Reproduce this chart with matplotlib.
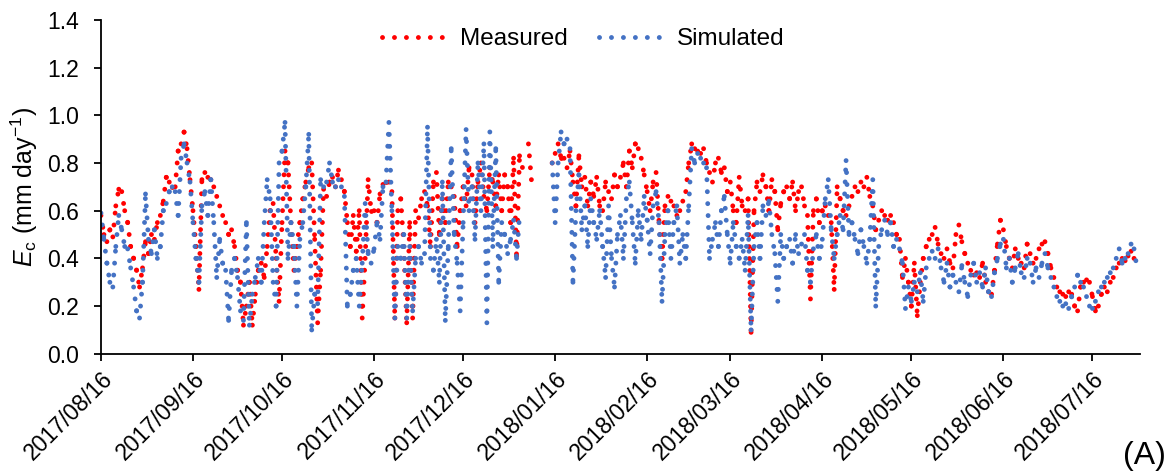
import numpy as np
import pandas as pd
import matplotlib
matplotlib.use("Agg")
import matplotlib.pyplot as plt
import matplotlib.dates as mdates
from matplotlib.collections import LineCollection
from matplotlib.lines import Line2D

plt.rcParams["font.family"] = ["Liberation Sans", "DejaVu Sans"]
plt.rcParams["mathtext.fontset"] = "custom"
plt.rcParams["mathtext.rm"] = "Liberation Sans"
plt.rcParams["mathtext.it"] = "Liberation Sans:italic"

START = "2017-08-16"
nan = np.nan

# daily crop transpiration, mm/day
measured = [
    0.58, 0.50, 0.47, 0.52, 0.49, 0.62, 0.69, 0.68, 0.60, 0.55,
    0.45, 0.40, 0.35, 0.28, 0.36, 0.47, 0.42, 0.50, 0.48, 0.55,
    0.58, 0.64, 0.74, 0.72, 0.70, 0.70, 0.85, 0.88, 0.93, 0.86,
    0.73, 0.60, 0.45, 0.27, 0.73, 0.76, 0.74, 0.73, 0.70, 0.66,
    0.62, 0.58, 0.55, 0.50, 0.52, 0.45, 0.35, 0.30, 0.12, 0.20,
    0.30, 0.12, 0.25, 0.35, 0.38, 0.32, 0.45, 0.60, 0.63, 0.40,
    0.22, 0.55, 0.85, 0.80, 0.55, 0.35, 0.45, 0.55, 0.65, 0.72,
    0.78, 0.80, 0.48, 0.13, 0.35, 0.69, 0.66, 0.72, 0.74, 0.70,
    0.77, 0.73, 0.68, 0.55, 0.45, 0.58, 0.43, 0.60, 0.15, 0.40,
    0.73, 0.60, 0.60, 0.55, 0.67, 0.71, 0.72, 0.72, 0.68, 0.15,
    0.60, 0.65, 0.45, 0.13, 0.55, 0.15, 0.60, 0.57, 0.65, 0.68,
    0.62, 0.45, 0.72, 0.76, 0.50, 0.65, 0.55, 0.72, 0.70, 0.66,
    0.45, 0.60, 0.70, 0.62, 0.78, 0.75, 0.55, 0.72, 0.80, 0.66,
    0.60, 0.78, 0.72, 0.62, 0.75, 0.60, 0.75, 0.70, 0.55, 0.82,
    0.41, 0.83, 0.78, nan, 0.88, 0.73, nan, nan, nan, nan,
    nan, nan, 0.80, 0.84, 0.88, 0.82, 0.82, 0.78, 0.85, 0.72,
    0.62, 0.83, 0.70, 0.74, 0.62, 0.72, 0.66, 0.74, 0.62, 0.60,
    0.72, 0.68, 0.65, 0.75, 0.70, 0.74, 0.80, 0.70, 0.85, 0.78,
    0.88, 0.86, 0.82, 0.75, 0.68, 0.60, 0.72, 0.76, 0.55, 0.40,
    0.62, 0.66, 0.64, 0.62, 0.58, 0.60, 0.64, 0.68, 0.80, 0.88,
    0.86, 0.85, 0.84, 0.86, 0.80, 0.76, 0.72, 0.80, 0.82, 0.76,
    0.78, 0.68, 0.72, 0.60, 0.55, 0.74, 0.62, 0.60, 0.65, 0.09,
    0.60, 0.72, 0.68, 0.75, 0.70, 0.60, 0.73, 0.68, 0.52, 0.63,
    0.68, 0.70, 0.65, 0.72, 0.60, 0.68, 0.70, 0.62, 0.58, 0.23,
    0.60, 0.65, 0.55, 0.60, 0.62, 0.58, 0.55, 0.27, 0.70, 0.65,
    0.60, 0.58, 0.62, 0.66, 0.70, 0.68, 0.72, 0.70, 0.74, 0.66,
    0.62, 0.52, 0.56, 0.60, 0.58, 0.56, 0.58, 0.55, 0.50, 0.48,
    0.32, 0.40, 0.30, 0.20, 0.38, 0.16, 0.30, 0.40, 0.45, 0.48,
    0.50, 0.53, 0.46, 0.42, 0.40, 0.44, 0.38, 0.36, 0.50, 0.54,
    0.47, 0.42, 0.38, 0.35, 0.33, 0.34, 0.32, 0.38, 0.30, 0.26,
    0.25, 0.35, 0.46, 0.56, 0.52, 0.45, 0.40, 0.36, 0.44, 0.40,
    0.38, 0.36, 0.46, 0.42, 0.38, 0.40, 0.44, 0.46, 0.47, 0.42,
    0.36, 0.32, 0.28, 0.26, 0.25, 0.24, 0.26, 0.25, 0.20, 0.18,
    0.28, 0.30, 0.31, 0.30, 0.24, 0.18, 0.20, 0.25, 0.28, 0.26,
    0.30, 0.32, 0.36, 0.38, 0.40, 0.39, 0.41, 0.43, 0.40, 0.42,
]

simulated = [
    0.59, 0.48, 0.38, 0.30, 0.28, 0.45, 0.58, 0.52, 0.45, 0.44,
    0.36, 0.28, 0.18, 0.15, 0.30, 0.67, 0.48, 0.42, 0.52, 0.40,
    0.45, 0.60, 0.63, 0.68, 0.70, 0.68, 0.58, 0.82, 0.88, 0.80,
    0.72, 0.55, 0.40, 0.30, 0.62, 0.68, 0.58, 0.73, 0.55, 0.32,
    0.48, 0.38, 0.35, 0.14, 0.35, 0.40, 0.32, 0.18, 0.14, 0.55,
    0.12, 0.25, 0.32, 0.40, 0.30, 0.55, 0.73, 0.65, 0.30, 0.20,
    0.80, 0.85, 0.97, 0.40, 0.55, 0.45, 0.20, 0.48, 0.55, 0.70,
    0.92, 0.10, 0.25, 0.21, 0.73, 0.70, 0.72, 0.80, 0.72, 0.70,
    0.73, 0.70, 0.66, 0.20, 0.25, 0.35, 0.40, 0.20, 0.38, 0.63,
    0.42, 0.38, 0.44, 0.55, 0.48, 0.70, 0.72, 0.97, 0.60, 0.15,
    0.45, 0.40, 0.50, 0.15, 0.45, 0.18, 0.40, 0.45, 0.38, 0.42,
    0.95, 0.40, 0.35, 0.48, 0.30, 0.72, 0.14, 0.45, 0.86, 0.50,
    0.38, 0.18, 0.55, 0.94, 0.60, 0.70, 0.48, 0.80, 0.60, 0.88,
    0.13, 0.93, 0.45, 0.86, 0.30, 0.55, 0.50, 0.42, 0.48, 0.56,
    0.40, 0.58, nan, nan, nan, nan, nan, nan, nan, nan,
    nan, nan, 0.80, 0.55, 0.80, 0.93, 0.88, 0.90, 0.86, 0.30,
    0.60, 0.75, 0.52, 0.62, 0.45, 0.65, 0.55, 0.48, 0.60, 0.45,
    0.32, 0.62, 0.40, 0.28, 0.50, 0.58, 0.40, 0.65, 0.72, 0.55,
    0.38, 0.60, 0.48, 0.66, 0.56, 0.42, 0.62, 0.68, 0.55, 0.22,
    0.50, 0.60, 0.40, 0.55, 0.62, 0.38, 0.50, 0.40, 0.62, 0.86,
    0.80, 0.84, 0.82, 0.80, 0.78, 0.40, 0.48, 0.55, 0.45, 0.60,
    0.66, 0.50, 0.38, 0.55, 0.45, 0.40, 0.48, 0.35, 0.58, 0.10,
    0.45, 0.55, 0.40, 0.62, 0.58, 0.64, 0.50, 0.42, 0.22, 0.50,
    0.40, 0.45, 0.48, 0.38, 0.50, 0.42, 0.46, 0.50, 0.35, 0.30,
    0.44, 0.50, 0.40, 0.48, 0.65, 0.73, 0.52, 0.40, 0.50, 0.58,
    0.52, 0.81, 0.50, 0.55, 0.48, 0.42, 0.52, 0.45, 0.38, 0.48,
    0.73, 0.20, 0.45, 0.52, 0.56, 0.50, 0.55, 0.45, 0.48, 0.44,
    0.38, 0.19, 0.28, 0.22, 0.30, 0.26, 0.34, 0.22, 0.36, 0.40,
    0.43, 0.40, 0.44, 0.36, 0.30, 0.38, 0.28, 0.33, 0.30, 0.26,
    0.37, 0.30, 0.24, 0.33, 0.38, 0.30, 0.34, 0.28, 0.36, 0.26,
    0.24, 0.34, 0.40, 0.46, 0.48, 0.36, 0.40, 0.30, 0.36, 0.42,
    0.34, 0.32, 0.40, 0.38, 0.30, 0.36, 0.32, 0.38, 0.42, 0.36,
    0.32, 0.28, 0.24, 0.22, 0.20, 0.21, 0.19, 0.24, 0.28, 0.33,
    0.30, 0.28, 0.24, 0.20, 0.19, 0.22, 0.26, 0.28, 0.30, 0.32,
    0.34, 0.36, 0.40, 0.44, 0.38, 0.40, 0.42, 0.46, 0.44, 0.36,
]

tick_dates = ["2017-08-16", "2017-09-16", "2017-10-16", "2017-11-16",
              "2017-12-16", "2018-01-16", "2018-02-16", "2018-03-16",
              "2018-04-16", "2018-05-16", "2018-06-16", "2018-07-16"]

RED = "#ff0000"
BLUE = "#4472c4"
LW = 3.5
DOTS = (0, (0.01, 2.45))


def dotted_series(ax, x, y, color):
    # each day-to-day segment restarts the dot pattern, like the excel line
    y = np.asarray(y, dtype=float)
    segs = []
    for i in range(len(y) - 1):
        if np.isfinite(y[i]) and np.isfinite(y[i + 1]):
            segs.append([(x[i], y[i]), (x[i + 1], y[i + 1])])
    lc = LineCollection(segs, colors=color, linewidths=LW,
                        linestyles=[DOTS], capstyle="round")
    ax.add_collection(lc)


days = pd.date_range(START, periods=len(measured), freq="D")
xs = mdates.date2num(days.to_pydatetime())

fig = plt.figure(figsize=(11.74, 4.73), dpi=100)
ax = fig.add_axes([0.086, 0.252, 0.885, 0.706])

dotted_series(ax, xs, measured, RED)
dotted_series(ax, xs, simulated, BLUE)

ax.set_xlim(mdates.date2num(pd.Timestamp("2017-08-16")),
            mdates.date2num(pd.Timestamp("2018-08-01")))
ax.set_ylim(0, 1.4)
ax.set_yticks(np.arange(0, 1.41, 0.2))
ax.set_yticklabels(["%.1f" % v for v in np.arange(0, 1.41, 0.2)])

tpos = mdates.date2num(pd.to_datetime(tick_dates).to_pydatetime())
ax.set_xticks(tpos)
ax.set_xticklabels([d.replace("-", "/") for d in tick_dates],
                   rotation=45, ha="right", rotation_mode="anchor")

for s in ["top", "right"]:
    ax.spines[s].set_visible(False)
for s in ["left", "bottom"]:
    ax.spines[s].set_linewidth(1.3)
ax.tick_params(axis="both", direction="out", length=5, width=1.3,
               labelsize=16.5)
ax.tick_params(axis="y", pad=11)
ax.tick_params(axis="x", pad=5)

ax.set_ylabel(r"$E_{\rm c}$ (mm day$^{-1}$)", fontsize=18, labelpad=5)

handles = [Line2D([], [], color=RED, lw=LW, linestyle=DOTS, dash_capstyle="round"),
           Line2D([], [], color=BLUE, lw=LW, linestyle=DOTS, dash_capstyle="round")]
ax.legend(handles, ["Measured", "Simulated"], ncol=2, frameon=False,
          loc="upper center", bbox_to_anchor=(0.464, 1.04), fontsize=17.5,
          handlelength=2.85, columnspacing=1.3, handletextpad=0.35)

fig.text(0.993, 0.004, "(A)", fontsize=23, ha="right", va="bottom")

fig.savefig("out.png", dpi=100)
